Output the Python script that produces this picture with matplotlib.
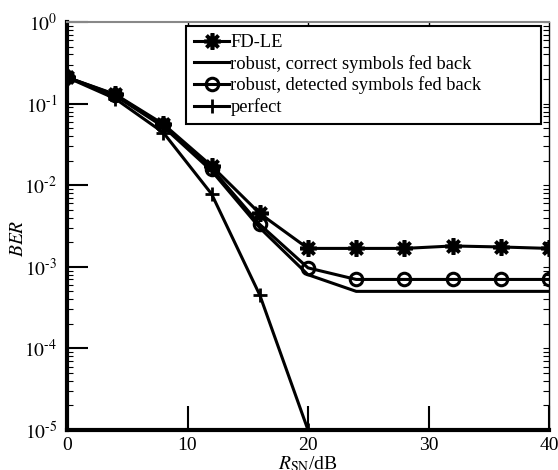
import numpy as np
import matplotlib
matplotlib.use("Agg")
import matplotlib.pyplot as plt
from matplotlib.ticker import LogLocator, NullFormatter, FuncFormatter

plt.rcParams["font.family"] = ["Liberation Serif", "DejaVu Serif"]
plt.rcParams["mathtext.fontset"] = "stix"

# ── Data ───────────────────────────────────────────────────────
snr = [0, 4, 8, 12, 16, 20, 24, 28, 32, 36, 40]
fd_le = [0.21, 0.13, 0.056, 0.0172, 0.0045, 0.00168, 0.00168, 0.00168, 0.00180, 0.00175, 0.00168]
robust_correct = [0.21, 0.125, 0.052, 0.0150, 0.0030, 0.00080, 0.00050, 0.00050, 0.00050, 0.00050, 0.00050]
robust_detected = [0.21, 0.128, 0.054, 0.0160, 0.00330, 0.00097, 0.00070, 0.00070, 0.00070, 0.00070, 0.00070]
snr_perfect = [0, 4, 8, 12, 16, 20]
perfect = [0.21, 0.115, 0.044, 0.0078, 0.00045, 1e-5]

fig = plt.figure(figsize=(5.58, 4.70), dpi=100)
ax = fig.add_axes([67 / 558, 1 - 430 / 470, 482 / 558, 408 / 470])

lw = 2.2
ax.plot(snr, fd_le, color="black", lw=lw, marker=(8, 2, 0), ms=12, mew=2.6,
        label="FD-LE")
ax.plot(snr, robust_correct, color="black", lw=lw,
        label="robust, correct symbols fed back")
ax.plot(snr, robust_detected, color="black", lw=lw, marker="o", ms=9,
        mfc="none", mew=2.2, label="robust, detected symbols fed back")
ax.plot(snr_perfect, perfect, color="black", lw=lw, marker="+", ms=10,
        mew=2, label="perfect")

ax.set_yscale("log")
ax.set_xlim(0, 40)
ax.set_ylim(1e-5, 1)
ax.set_xticks([0, 10, 20, 30, 40])
ax.yaxis.set_major_locator(LogLocator(base=10, numticks=10))
ax.yaxis.set_major_formatter(FuncFormatter(
    lambda v, p: "$10^{%s}$" % ("\u2010%d" % -round(np.log10(v)) if v < 1 else "0")))
ax.yaxis.set_minor_locator(LogLocator(base=10, subs=np.arange(2, 10), numticks=10))
ax.yaxis.set_minor_formatter(NullFormatter())

ax.tick_params(which="major", direction="in", length=15, width=1.5,
               labelsize=14, pad=7)
ax.tick_params(axis="x", which="major", length=17, pad=5)
ax.tick_params(which="minor", direction="in", length=4, width=0.8)

# short ticks on the top and right edges
top = ax.secondary_xaxis("top")
top.set_xticks([10, 20, 30])
top.tick_params(direction="in", length=4, width=1, labeltop=False)
top.spines["top"].set_visible(False)
right = ax.secondary_yaxis("right")
right.yaxis.set_major_locator(LogLocator(base=10, numticks=10))
right.yaxis.set_minor_locator(LogLocator(base=10, subs=np.arange(2, 10), numticks=10))
right.tick_params(which="both", direction="in", length=4, width=0.8, labelright=False)
right.spines["right"].set_visible(False)

for side in ("left", "bottom"):
    ax.spines[side].set_linewidth(3)
ax.spines["right"].set_linewidth(1)
ax.spines["top"].set_linewidth(1.5)
ax.spines["top"].set_color("#888888")

ax.set_ylabel("$BER$", fontsize=14)
ax.yaxis.set_label_coords(-40 / 482, 0.47)
ax.set_xlabel(r"$R_{\rm SN}$/dB", fontsize=14, labelpad=0)

leg = ax.legend(loc="upper left", mode="expand", fontsize=13.3,
                bbox_to_anchor=(186 / 558, 1 - 125 / 470, 355 / 558, 99 / 470),
                bbox_transform=fig.transFigure,
                frameon=True, fancybox=False, framealpha=1,
                edgecolor="black", handlelength=1.9, handletextpad=0.05,
                borderpad=0.45, labelspacing=0.2, borderaxespad=0)
leg.get_frame().set_linewidth(1.5)

fig.savefig("out.png", dpi=100)
